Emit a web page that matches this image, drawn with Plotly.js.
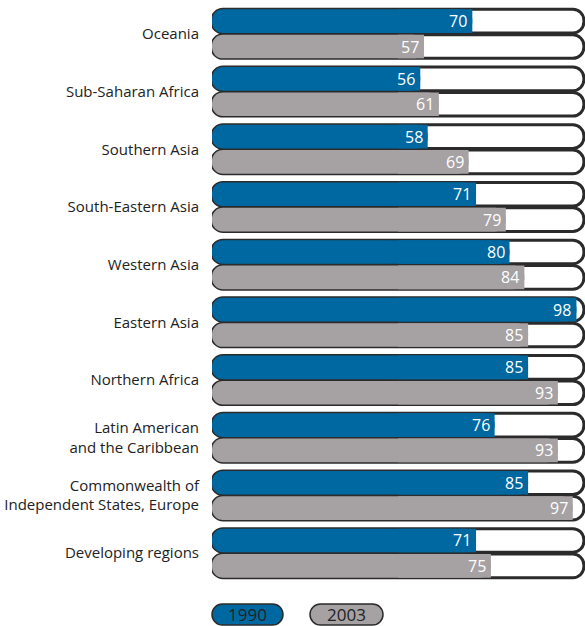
<!DOCTYPE html>
<html><head><meta charset="utf-8">
<script src="https://cdn.plot.ly/plotly-3.0.1.min.js"></script>
<style>html,body{margin:0;padding:0;background:#fff}#chart{width:585px;height:626px}</style>
</head><body><div id="chart"></div>
<script>
const categories = ["Oceania","Sub-Saharan Africa","Southern Asia","South-Eastern Asia","Western Asia","Eastern Asia","Northern Africa","Latin American<br>and the Caribbean","Commonwealth of<br>Independent States, Europe","Developing regions"];
const values1990 = [70,56,58,71,80,98,85,76,85,71];
const values2003 = [57,61,69,79,84,85,93,93,97,75];
const seriesNames = ["1990","2003"];
const fullScale = 100;

const HALF = fullScale/2, PAD = 0.3;
const W=585, H=626, ML=212, MR=0, MT=5, MB=44;
const PW = W-ML-MR, PH = H-MT-MB;
const BLUE='#0068a1', GRAY='#a6a1a3', EDGE='#2b2b2b', TXT='#222222';
const BAR_W = 0.41, GAP = 0.03, R = 11;
const OFF_TOP = -(BAR_W + GAP/2), OFF_BOT = GAP/2;

// white 0-100 track (floating bar => both ends rounded)
function track(offset){
  return {type:'bar', orientation:'h', y:categories,
    x: categories.map(()=> fullScale), base: categories.map(()=> 0),
    offset: offset, width: BAR_W,
    marker:{color:'#ffffff', line:{color:EDGE, width:3}, cornerradius:R},
    hoverinfo:'skip', showlegend:false};
}
// value bar: rounded piece 0..v plus square piece over its right part (square end at v)
function valueBarRounded(vals, offset, color, name){
  return {type:'bar', orientation:'h', y:categories, name:name,
    x: vals, base: vals.map(()=> 0),
    offset: offset, width: BAR_W,
    marker:{color:color, line:{width:0}, cornerradius:R},
    hoverinfo:'skip', showlegend:false};
}
function valueBarSquare(vals, offset, color, name){
  return {type:'bar', orientation:'h', y:categories, name:name,
    x: vals.map(v=> v-HALF), base: vals.map(()=> HALF),
    offset: offset, width: BAR_W,
    marker:{color:color, line:{width:0}, cornerradius:0},
    hoverinfo:'skip', showlegend:false};
}
const data = [
  track(OFF_TOP), track(OFF_BOT),
  valueBarRounded(values1990, OFF_TOP, BLUE, seriesNames[0]),
  valueBarSquare(values1990, OFF_TOP, BLUE, seriesNames[0]),
  valueBarRounded(values2003, OFF_BOT, GRAY, seriesNames[1]),
  valueBarSquare(values2003, OFF_BOT, GRAY, seriesNames[1])
];

// value labels inside the bar ends
const ROWPX = PH/categories.length, SHIFT = ROWPX*(BAR_W+GAP)/2;
const valueLabels = [];
[[values1990, SHIFT],[values2003, -SHIFT]].forEach(([vals, ys])=>{
  vals.forEach((v,i)=>valueLabels.push({xref:'x', yref:'y', x:v, y:categories[i], yshift:ys, xshift:-3,
    text:String(v), showarrow:false, xanchor:'right', yanchor:'middle',
    font:{size:16, color:'#ffffff', family:'Open Sans, sans-serif'}}));
});

// legend pills (pixel -> paper)
const px = x => (x-ML)/PW, py = y => (H-MB-y)/PH;
function pill(x0,x1,y0,y1){
  const r=(y1-y0)/2, k=0.5523*r, ym=(y0+y1)/2;
  const P=(x,y)=>px(x).toFixed(5)+','+py(y).toFixed(5);
  return 'M'+P(x0+r,y0)+' L'+P(x1-r,y0)+
    ' C'+P(x1-r+k,y0)+' '+P(x1,ym-k)+' '+P(x1,ym)+
    ' C'+P(x1,ym+k)+' '+P(x1-r+k,y1)+' '+P(x1-r,y1)+
    ' L'+P(x0+r,y1)+
    ' C'+P(x0+r-k,y1)+' '+P(x0,ym+k)+' '+P(x0,ym)+
    ' C'+P(x0,ym-k)+' '+P(x0+r-k,y0)+' '+P(x0+r,y0)+' Z';
}
const legendBoxes = [[212,283,604,625,BLUE],[310,383,604,625,GRAY]];
const shapes = legendBoxes.map(b=>({type:'path', xref:'paper', yref:'paper',
  path:pill(b[0],b[1],b[2],b[3]), fillcolor:b[4], line:{color:EDGE,width:1.5}, layer:'above'}));
const legendText = legendBoxes.map((b,i)=>({xref:'paper', yref:'paper',
  x:px((b[0]+b[1])/2), y:py((b[2]+b[3])/2), text:seriesNames[i], showarrow:false,
  xanchor:'center', yanchor:'middle', font:{size:17, color:TXT, family:'Open Sans, sans-serif'}}));

const layout = {
  width:W, height:H, margin:{l:ML, r:MR, t:MT, b:MB, pad:0},
  paper_bgcolor:'#ffffff', plot_bgcolor:'#ffffff',
  barmode:'overlay', showlegend:false,
  font:{family:'Open Sans, sans-serif', color:TXT},
  xaxis:{range:[0, fullScale+PAD], visible:false, fixedrange:true},
  yaxis:{type:'category', range:[categories.length-0.5,-0.5], showgrid:false, zeroline:false,
    showline:false, ticks:'', ticklabelstandoff:12, tickfont:{size:15, color:TXT}, fixedrange:true},
  shapes:shapes, annotations:valueLabels.concat(legendText)
};
Plotly.newPlot('chart', data, layout, {displayModeBar:false, staticPlot:true});
</script></body></html>
